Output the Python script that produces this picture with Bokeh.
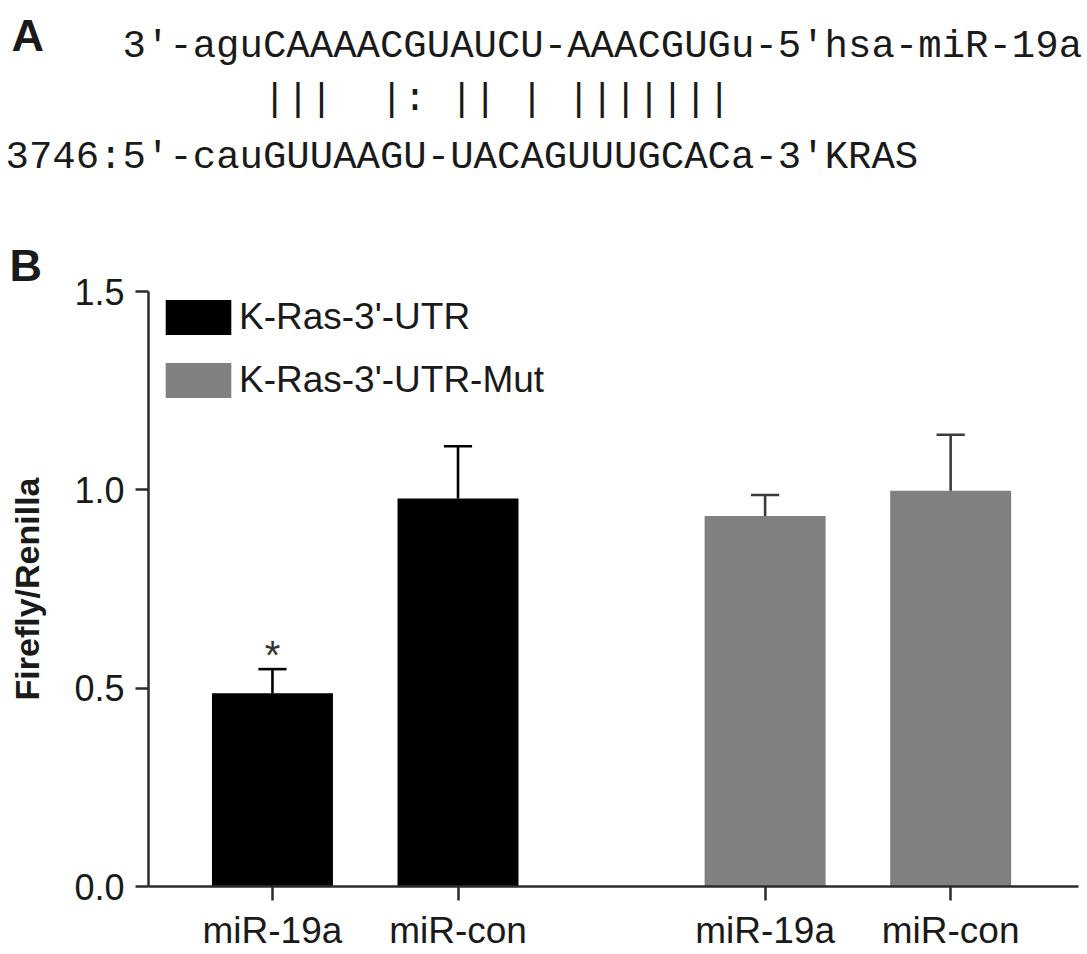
from bokeh.plotting import figure
from bokeh.models import (Range1d, FixedTicker, Legend, LegendItem, Title,
                          ColumnDataSource, CustomJSTickFormatter, NumeralTickFormatter)
from bokeh.layouts import column, row
from bokeh.embed import file_html
from bokeh.resources import INLINE
from bokeh.core.properties import value

# ---------------- Panel A data ----------------
mirna_line = "3'-aguCAAAACGUAUCU-AAACGUGu-5'hsa-miR-19a"
pairing_line = "|||  |: || | |||||||"
target_line = "3746:5'-cauGUUAAGU-UACAGUUUGCACa-3'KRAS"
mirna_start_col = 5
pairing_start_col = 11

# ---------------- Panel B data ----------------
groups = ["miR-19a", "miR-con", "miR-19a", "miR-con"]
series_names = ["K-Ras-3'-UTR", "K-Ras-3'-UTR-Mut"]
series_of_bar = [0, 0, 1, 1]
means = [0.487, 0.978, 0.934, 0.998]
sems = [0.061, 0.132, 0.053, 0.141]
signif = ["*", "", "", ""]
y_ticks = [0.0, 0.5, 1.0, 1.5]

# ---------------- styles / layout ----------------
W = 1087
TOP_H = 230
SANS = "Liberation Sans"
MONO = "Liberation Mono"
MONO_SIZE = 39
CW = MONO_SIZE * 0.6
X0 = 5
bar_colors = ["#000000", "#808080"]
err_colors = ["#000000", "#3c3c3c"]
TXT = "#1a1a1a"

# ================= Panel A figure =================
pa = figure(width=W, height=TOP_H, x_range=Range1d(0, W), y_range=Range1d(TOP_H, 0),
            output_backend="svg", toolbar_location=None,
            x_axis_type=None, y_axis_type=None, min_border=0)
pa.outline_line_color = None
pa.grid.visible = False

pa.text(x=[11], y=[35], text=["A"], text_font=value(SANS), text_font_size="45px",
        text_font_style="bold", text_baseline="alphabetic", text_align="left", text_color=TXT)

pa.text(x=[X0 + mirna_start_col * CW, X0], y=[46, 157], text=[mirna_line, target_line],
        text_font=value(MONO), text_font_size=f"{MONO_SIZE}px", text_baseline="alphabetic",
        text_align="left", text_color=TXT)

px, pt = [], []
for i, ch in enumerate(pairing_line):
    if ch != " ":
        px.append(X0 + (pairing_start_col + i + 0.5) * CW)
        pt.append(ch)
pa.text(x=px, y=[99] * len(px), text=pt, text_font=value(MONO),
        text_font_size=f"{MONO_SIZE}px", text_baseline="alphabetic",
        text_align="center", text_color=TXT)

# ================= Panel B figure =================
gap = 0.655
pos = [i + gap * series_of_bar[i] for i in range(len(means))]
bar_w = 0.652

BORDER_TOP = 61
FRAME_H = 595
BORDER_BOT = 68
BOT_H = BORDER_TOP + FRAME_H + BORDER_BOT

pb = figure(width=W, height=BOT_H, x_range=Range1d(-0.668, pos[-1] + 0.689),
            y_range=Range1d(0, 1.5), output_backend="svg", toolbar_location=None,
            min_border_left=148, min_border_right=9, min_border_top=BORDER_TOP,
            min_border_bottom=BORDER_BOT)
pb.outline_line_color = None
pb.grid.visible = False

renderers = []
for s in range(len(series_names)):
    idx = [i for i in range(len(means)) if series_of_bar[i] == s]
    src = ColumnDataSource(dict(x=[pos[i] for i in idx], top=[means[i] for i in idx]))
    r = pb.vbar(x="x", top="top", bottom=0, width=bar_w, source=src,
                fill_color=bar_colors[s], line_color=None)
    renderers.append(r)
    esrc = ColumnDataSource(dict(
        x=[pos[i] for i in idx], y0=[means[i] for i in idx],
        y1=[means[i] + sems[i] for i in idx],
        xl=[pos[i] - 0.076 for i in idx], xr=[pos[i] + 0.076 for i in idx]))
    pb.segment(x0="x", y0="y0", x1="x", y1="y1", source=esrc,
               line_color=err_colors[s], line_width=2.6)
    pb.segment(x0="xl", y0="y1", x1="xr", y1="y1", source=esrc,
               line_color=err_colors[s], line_width=2.6)

sig_src = ColumnDataSource(dict(x=pos, y=[m + e for m, e in zip(means, sems)], t=signif))
pb.text(x="x", y="y", text="t", source=sig_src, text_font=value(SANS),
        text_font_size="40px", text_align="center", text_baseline="alphabetic",
        y_offset=-14, text_color="#333333")

LEG_H = 44
LEG_SP = 19
legend = Legend(items=[LegendItem(label=series_names[s], renderers=[renderers[s]])
                       for s in range(len(series_names))],
                location=(9, FRAME_H - 3.6 - (2 * LEG_H + LEG_SP)), margin=0, padding=0,
                glyph_width=82, glyph_height=LEG_H, label_height=LEG_H, spacing=LEG_SP,
                label_standoff=0, label_text_font=SANS, label_text_font_size="37px",
                label_text_color=TXT, border_line_alpha=0, background_fill_alpha=0)
pb.add_layout(legend)

# axes
for ax in (pb.xaxis[0], pb.yaxis[0]):
    ax.axis_line_width = 2.5
    ax.axis_line_color = "#2b2b2b"
    ax.major_tick_line_width = 2.5
    ax.major_tick_line_color = "#2b2b2b"
    ax.major_tick_in = 0
    ax.minor_tick_line_color = None
    ax.major_label_text_font = SANS
    ax.major_label_text_color = TXT

pb.yaxis.ticker = FixedTicker(ticks=y_ticks)
pb.yaxis.formatter = NumeralTickFormatter(format="0.0")
pb.yaxis.major_tick_out = 13
pb.yaxis.major_label_standoff = 11
pb.yaxis.major_label_text_font_size = "36px"
pb.yaxis.axis_label = "Firefly/Renilla"
pb.yaxis.axis_label_text_font = SANS
pb.yaxis.axis_label_text_font_style = "bold"
pb.yaxis.axis_label_text_font_size = "34px"
pb.yaxis.axis_label_text_color = TXT
pb.yaxis.axis_label_standoff = 25

pb.xaxis.ticker = FixedTicker(ticks=pos)
pb.xaxis.formatter = CustomJSTickFormatter(
    args=dict(pos=pos, labels=groups),
    code="const i = pos.findIndex(v => Math.abs(v - tick) < 1e-6); return i >= 0 ? labels[i] : '';")
pb.xaxis.major_tick_out = 14
pb.xaxis.major_label_standoff = 9
pb.xaxis.major_label_text_font_size = "37px"

pb.add_layout(Title(text="B", align="left", offset=-139, standoff=2, vertical_align="bottom",
                    text_font=SANS, text_font_size="45px", text_font_style="bold",
                    text_color=TXT), "above")

layout = column(row(pa), row(pb), spacing=0)
open("out.html", "w").write(file_html(layout, INLINE))
